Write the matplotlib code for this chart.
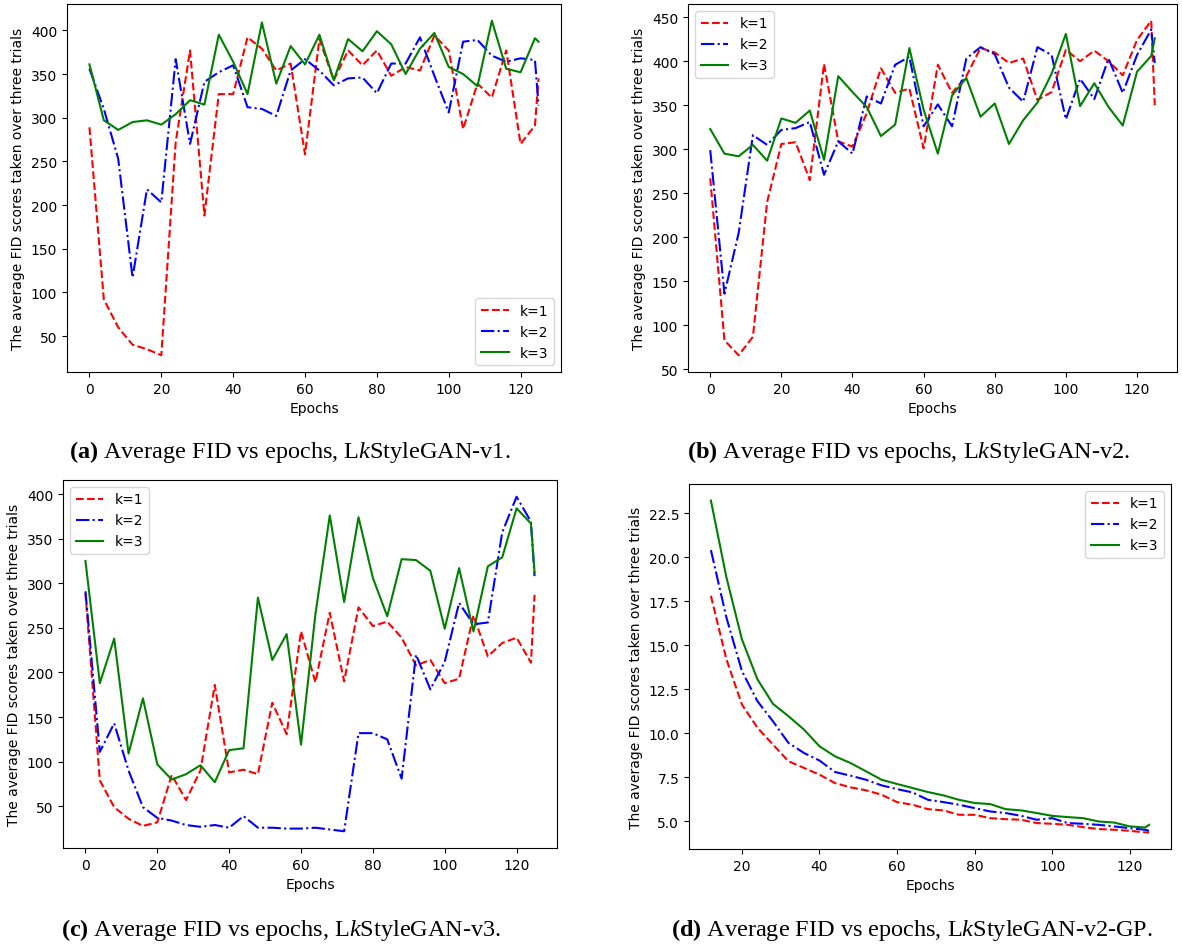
import matplotlib
matplotlib.use("Agg")
import matplotlib.pyplot as plt

epochs = [0, 4, 8, 12, 16, 20, 24, 28, 32, 36, 40, 44, 48, 52, 56, 60, 64, 68, 72, 76,
          80, 84, 88, 92, 96, 100, 104, 108, 112, 116, 120, 124, 125]
epochs_d = epochs[3:]

a_k1 = [289, 92, 60, 40, 35, 28, 272, 377, 188, 327, 327, 392, 379, 354, 362, 258, 390, 343,
        377, 360, 377, 348, 358, 354, 394, 377, 287, 339, 323, 377, 270, 291, 345]
a_k2 = [356, 310, 253, 117, 218, 203, 367, 270, 341, 352, 360, 312, 310, 302, 354, 367, 354, 337,
        345, 346, 328, 362, 362, 392, 348, 306, 387, 389, 371, 364, 368, 366, 314]
a_k3 = [361, 297, 286, 295, 297, 292, 304, 320, 315, 395, 364, 327, 409, 339, 382, 361, 395, 343,
        390, 376, 399, 384, 350, 379, 397, 358, 350, 336, 411, 356, 352, 391, 387]

b_k1 = [267, 83, 66, 87, 240, 306, 308, 265, 397, 309, 303, 341, 392, 364, 369, 301, 396, 364,
        383, 415, 410, 398, 403, 356, 365, 413, 400, 412, 400, 384, 424, 446, 350]
b_k2 = [299, 136, 205, 316, 305, 322, 324, 331, 271, 309, 295, 360, 352, 396, 405, 326, 351, 326,
        403, 416, 408, 370, 354, 416, 407, 334, 380, 357, 403, 364, 407, 436, 398]
b_k3 = [323, 295, 292, 305, 287, 335, 330, 344, 288, 383, 365, 348, 315, 328, 415, 345, 295, 361,
        381, 337, 352, 306, 333, 353, 386, 431, 349, 375, 348, 327, 388, 406, 426]

c_k1 = [289, 79, 49, 36, 28, 32, 85, 57, 90, 186, 88, 91, 86, 166, 131, 246, 189, 267,
        190, 273, 252, 257, 239, 208, 214, 188, 193, 264, 218, 233, 239, 211, 287]
c_k2 = [291, 111, 143, 90, 49, 37, 34, 29, 27, 29, 26, 39, 26, 26, 25, 25, 26, 24,
        22, 132, 132, 125, 81, 220, 181, 212, 278, 254, 256, 357, 397, 369, 308]
c_k3 = [325, 188, 238, 109, 171, 97, 80, 86, 96, 77, 113, 115, 284, 214, 243, 119, 265, 376,
        279, 374, 306, 263, 327, 326, 314, 249, 317, 246, 319, 329, 384, 367, 312]

d_k1 = [17.81, 14.21, 11.64, 10.32, 9.37, 8.42, 8.04, 7.66, 7.18, 6.94, 6.77, 6.52, 6.10, 5.95,
        5.70, 5.63, 5.38, 5.38, 5.19, 5.13, 5.10, 4.91, 4.87, 4.81, 4.68, 4.57, 4.53, 4.47, 4.38, 4.38]
d_k2 = [20.41, 16.58, 13.54, 11.83, 10.69, 9.46, 8.89, 8.46, 7.81, 7.60, 7.37, 7.05, 6.84, 6.65,
        6.23, 6.10, 5.95, 5.76, 5.57, 5.48, 5.32, 5.10, 5.19, 4.91, 4.87, 4.81, 4.72, 4.62, 4.53, 4.47]
d_k3 = [23.22, 18.86, 15.34, 13.07, 11.68, 10.98, 10.22, 9.27, 8.70, 8.32, 7.85, 7.37, 7.13, 6.90,
        6.67, 6.48, 6.23, 6.05, 5.99, 5.70, 5.63, 5.48, 5.32, 5.25, 5.19, 5.00, 4.94, 4.72, 4.66, 4.81]

labels = ["k=1", "k=2", "k=3"]
ylabel = "The average FID scores taken over three trials"
captions = [("(a)", "v1"), ("(b)", "v2"), ("(c)", "v3"), ("(d)", "v2-GP")]

plt.rcParams["mathtext.fontset"] = "custom"
plt.rcParams["mathtext.rm"] = "Liberation Serif"
plt.rcParams["mathtext.it"] = "Liberation Serif:italic"
plt.rcParams["mathtext.bf"] = "Liberation Serif:bold"

W, H = 1182, 945
fig = plt.figure(figsize=(W / 100, H / 100), dpi=100)

def ax_at(l, t, r, b):
    return fig.add_axes([l / W, 1 - b / H, (r - l) / W, (b - t) / H])

boxes = [(67, 5, 561, 373), (688, 5, 1177, 373), (63, 481, 557, 849), (689, 485, 1171, 850)]
data = [(epochs, a_k1, a_k2, a_k3, "lower right"),
        (epochs, b_k1, b_k2, b_k3, "upper left"),
        (epochs, c_k1, c_k2, c_k3, "upper left"),
        (epochs_d, d_k1, d_k2, d_k3, "upper right")]

for box, (x, y1, y2, y3, loc) in zip(boxes, data):
    ax = ax_at(*box)
    ax.plot(x, y1, "r--", lw=1.5, label=labels[0])
    ax.plot(x, y2, "b-.", lw=1.5, label=labels[1])
    ax.plot(x, y3, "g-", lw=1.5, label=labels[2])
    ax.set_xlabel("Epochs", fontsize=10)
    ax.set_ylabel(ylabel, fontsize=10)
    ax.tick_params(labelsize=10)
    ax.legend(loc=loc, fontsize=10)

cap_pos = [(290, 452), (908, 452), (281, 930), (912, 930)]
for (tag, ver), (cx, cy) in zip(captions, cap_pos):
    fig.text(cx / W, 1 - cy / H,
             r"$\mathbf{" + tag + r"}$ Average FID vs epochs, L$k$StyleGAN-" + ver + ".",
             family="Liberation Serif", fontsize=17.5, ha="center", va="center")

fig.savefig("out.png", dpi=100)
